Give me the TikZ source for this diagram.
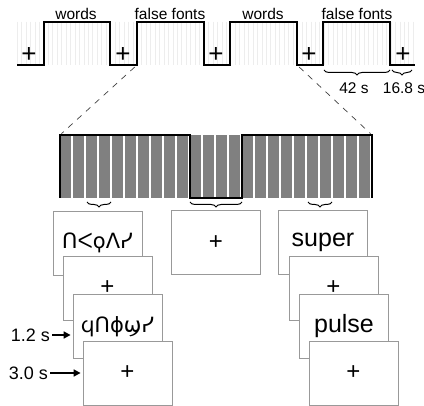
\documentclass[tikz,border=0pt]{standalone}
\usepackage{fontspec}
\setmainfont{Liberation Sans}
\newfontfamily\ffont{DejaVu Sans}
\usetikzlibrary{decorations.pathreplacing,arrows.meta}
\begin{document}
\begin{tikzpicture}[x=1pt,y=-1pt,
  wave/.style={line width=1.6pt, line join=miter},
  lbl/.style={font=\fontsize{15.5}{16}\selectfont, inner sep=0pt},
  fixp/.style={font=\fontsize{26}{26}\selectfont, inner sep=0pt},
  screen/.style={draw=black!40, line width=0.8pt, fill=white, minimum width=89pt, minimum height=64pt, inner sep=0pt},
  wordtxt/.style={font=\fontsize{25}{25}\selectfont},
  plustxt/.style={font=\fontsize{24}{24}\selectfont},
  fftxt/.style={font=\ffont\fontsize{21}{21}\selectfont},
  brc/.style={decorate, decoration={brace, mirror, amplitude=5pt}, line width=1pt},
  dsh/.style={dash pattern=on 6pt off 6pt, line width=0.7pt, draw=black!75},
  bar/.style={fill=black!50},
  timelbl/.style={font=\fontsize{18}{18}\selectfont, inner sep=0pt},
  arr/.style={-{Triangle[length=7pt,width=7pt]}, line width=1.6pt}
]
\useasboundingbox (0,0) rectangle (424,406);
\fill[white] (0,0) rectangle (424,406);
% faint grid behind waveform
\foreach \x in {17,21.45,...,415} \draw[black!7, line width=0.4pt] (\x,22) -- (\x,65);
% top waveform
\draw[wave] (17,65) -- (44,65) -- (44,22) -- (110,22) -- (110,65) -- (137,65) -- (137,22) -- (204,22) -- (204,65) -- (230,65) -- (230,22) -- (297,22) -- (297,65) -- (323,65) -- (323,22) -- (390,22) -- (390,65) -- (415,65);
\node[fixp] (p1) at (29,55) {+};
\node[fixp] (p2) at (123,55) {+};
\node[fixp] (p3) at (216,55) {+};
\node[fixp] (p4) at (309,55) {+};
\node[fixp] (p5) at (403,55) {+};
\node[lbl] (w1) at (76,14) {words};
\node[lbl] (f1) at (170,14) {false fonts};
\node[lbl] (w2) at (263,14) {words};
\node[lbl] (f2) at (357,14) {false fonts};
% durations
\coordinate (b1a) at (324,70);
\coordinate (b1b) at (390,70);
\coordinate (b2a) at (392,70);
\coordinate (b2b) at (412,70);
\draw[brc] (b1a) -- (b1b);
\draw[brc] (b2a) -- (b2b);
\node[lbl] (d42) at (354,88) {42 s};
\node[lbl] (d168) at (404,88) {16.8 s};
% zoom lines
\coordinate (wA) at (137,65);
\coordinate (wB) at (297,65);
\coordinate (bA) at (60,135);
\coordinate (bB) at (372,135);
\draw[dsh, shorten <=3pt, shorten >=2pt] (wA) -- (bA);
\draw[dsh, shorten <=3pt, shorten >=2pt] (wB) -- (bB);
% expanded block
\foreach \i in {0,...,23} \fill[bar] ({60+13*\i},135) rectangle ({60+13*\i+10.5},198);
\draw[wave] (60,198) -- (bA) -- (190,135) -- (190,198) -- (242,198) -- (242,135) -- (bB) -- (372,198);
% braces under block
\coordinate (c1a) at (87,202);
\coordinate (c1b) at (111,202);
\coordinate (c2a) at (190,202);
\coordinate (c2b) at (242,202);
\coordinate (c3a) at (308,202);
\coordinate (c3b) at (332,202);
\draw[brc] (c1a) -- (c1b);
\draw[brc] (c2a) -- (c2b);
\draw[brc] (c3a) -- (c3b);
% screens left
\node[screen,fftxt] (L1) at (97.5,243) {ᑎᐸϙᐱᓯ};
\node[screen,plustxt] (L2) at (107.5,288) {+};
\node[screen,fftxt] (L3) at (117.5,326.5) {\raisebox{-1.5pt}{ϥᑎϕϣᓯ}};
\node[screen,plustxt] (L4) at (127.5,373) {+};
% middle screen
\node[screen,plustxt] (M) at (216,242.5) {+};
% screens right
\node[screen,wordtxt] (R1) at (323,242.5) {super};
\node[screen,plustxt] (R2) at (333.5,288) {+};
\node[screen,wordtxt] (R3) at (344,326.5) {pulse};
\node[screen,plustxt] (R4) at (353.5,373) {+};
% time labels
\node[timelbl, anchor=east] (t12) at (50,335) {1.2 s};
\node[timelbl, anchor=east] (t30) at (48,373) {3.0 s};
\draw[arr] ([xshift=2pt]t12.east) -- ([xshift=-2pt]t12.east -| L3.west);
\draw[arr] ([xshift=2pt]t30.east) -- ([xshift=-2pt]t30.east -| L4.west);
\end{tikzpicture}
\end{document}
